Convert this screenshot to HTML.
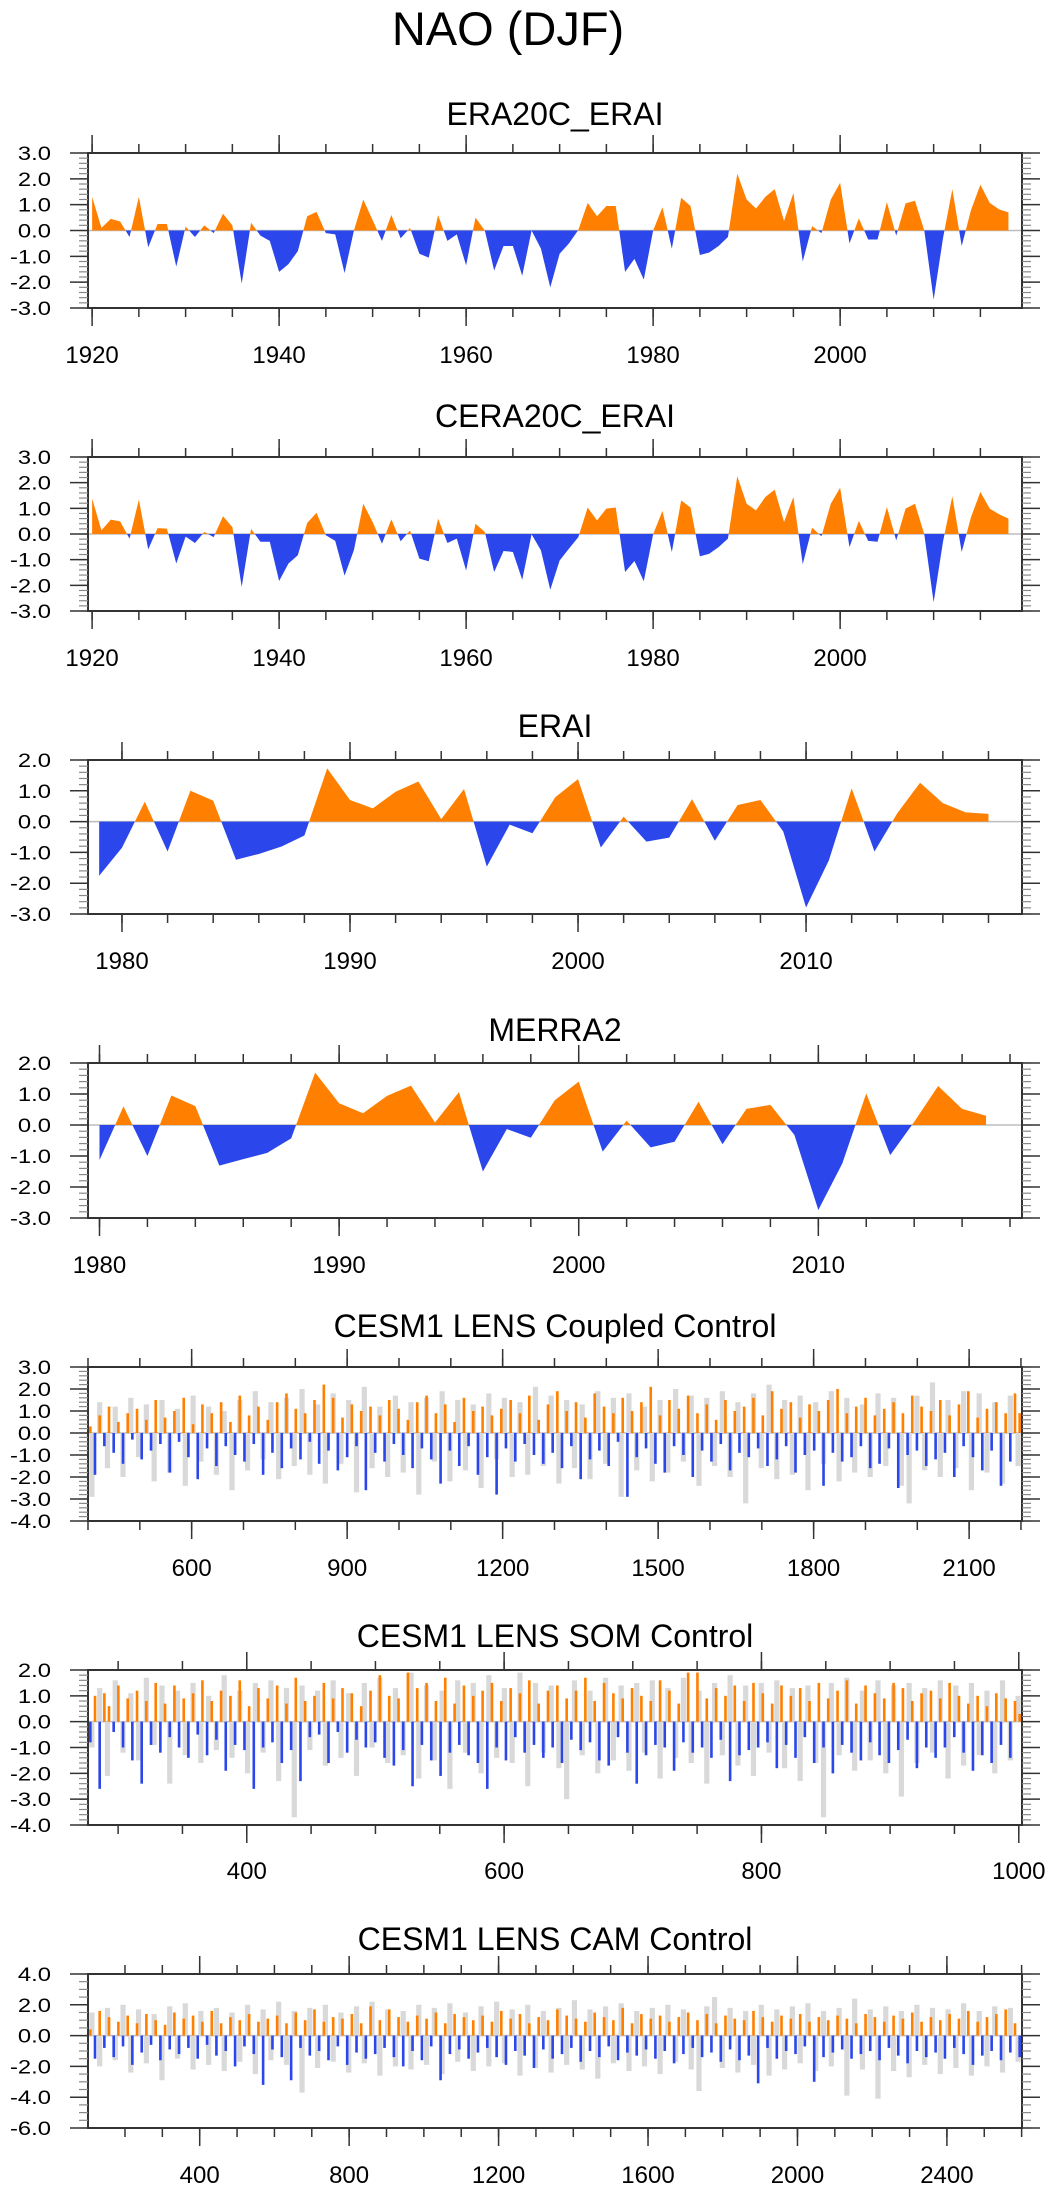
<!DOCTYPE html>
<html><head><meta charset="utf-8"><title>NAO (DJF)</title>
<style>
html,body{margin:0;padding:0;background:#fff;}
svg{display:block;font-family:"Liberation Sans",Arial,sans-serif;}
</style></head>
<body>
<svg id="fig" xmlns="http://www.w3.org/2000/svg" width="1049" height="2192" viewBox="0 0 1049 2192">
<text x="508" y="45" font-size="47" text-anchor="middle" fill="#000">NAO (DJF)</text>
</svg>
<script>
// ===== data =====
const era20cStart = 1920;
const era20cValues = [1.3,0.1,0.45,0.35,-0.25,1.3,-0.65,0.25,0.25,-1.4,0.15,-0.25,0.2,-0.1,0.65,0.2,-2.05,0.3,-0.2,-0.4,
-1.6,-1.3,-0.8,0.55,0.72,-0.1,-0.15,-1.65,0.0,1.2,0.4,-0.4,0.6,-0.3,0.1,-0.9,-1.05,0.6,-0.4,-0.15,
-1.35,0.5,0.0,-1.55,-0.6,-0.6,-1.75,0.0,-0.7,-2.2,-0.9,-0.5,0.02,1.07,0.55,0.95,0.95,-1.6,-1.1,-1.9,
0.0,0.9,-0.7,1.27,0.95,-0.95,-0.85,-0.6,-0.25,2.2,1.2,0.85,1.3,1.6,0.37,1.45,-1.2,0.17,-0.1,1.2,
1.85,-0.5,0.47,-0.35,-0.35,1.1,-0.2,1.05,1.15,0.0,-2.68,-0.3,1.6,-0.6,0.8,1.77,1.07,0.82,0.7];
const cera20cStart = 1920;
const cera20cValues = [1.38,0.14,0.56,0.49,-0.18,1.34,-0.6,0.23,0.21,-1.15,-0.1,-0.35,0.08,-0.12,0.69,0.27,-2.06,0.2,-0.3,-0.3,
-1.83,-1.15,-0.83,0.43,0.83,-0.05,-0.27,-1.62,-0.63,1.18,0.47,-0.38,0.57,-0.28,0.14,-0.96,-1.06,0.6,-0.35,-0.18,
-1.42,0.4,0.08,-1.48,-0.66,-0.7,-1.78,-0.01,-0.64,-2.17,-1.03,-0.57,-0.12,1.03,0.53,0.99,1.03,-1.48,-1.05,-1.84,
-0.01,0.9,-0.7,1.31,1.03,-0.87,-0.77,-0.51,-0.18,2.25,1.18,0.92,1.44,1.73,0.47,1.44,-1.18,0.25,-0.09,1.18,
1.8,-0.51,0.51,-0.27,-0.3,1.05,-0.25,0.99,1.18,-0.01,-2.66,-0.3,1.47,-0.7,0.66,1.64,0.99,0.77,0.6];
const eraiStart = 1979;
const eraiValues = [-1.76,-0.85,0.65,-0.97,1.0,0.68,-1.24,-1.05,-0.81,-0.45,1.73,0.7,0.43,0.97,1.3,0.08,1.06,-1.46,-0.1,-0.38,
0.79,1.38,-0.84,0.16,-0.65,-0.52,0.73,-0.62,0.54,0.7,-0.32,-2.79,-1.26,1.08,-0.97,0.27,1.26,0.6,0.3,0.25];
const merra2Start = 1980;
const merra2Values = [-1.13,0.6,-1.0,0.95,0.61,-1.31,-1.1,-0.9,-0.43,1.69,0.7,0.38,0.94,1.27,0.08,1.06,-1.5,-0.13,-0.41,0.8,
1.4,-0.86,0.14,-0.72,-0.54,0.75,-0.62,0.52,0.65,-0.32,-2.74,-1.24,1.02,-0.97,0.1,1.26,0.52,0.3];

const coupledValues = [0.3,-1.9,0.8,-0.6,1.2,-0.9,0.5,-1.4,0.9,-0.3,1.1,-1.2,0.6,-0.8,1.5,-0.5,0.7,-1.8,1.0,-0.4,
1.6,-1.1,0.4,-2.1,1.3,-0.7,0.9,-1.5,1.4,-0.6,0.5,-1.0,1.7,-1.3,0.8,-0.5,1.2,-1.9,0.6,-0.9,
1.4,-1.6,1.8,-0.7,1.1,-1.2,0.9,-0.4,1.5,-1.4,2.2,-0.8,1.6,-1.7,0.7,-1.1,1.3,-0.6,1.0,-2.6,
1.2,-0.9,0.8,-1.3,1.5,-0.5,1.1,-1.0,0.6,-1.6,1.4,-0.7,1.7,-1.2,0.9,-2.3,1.3,-0.8,0.5,-1.5,
1.6,-0.6,1.0,-1.9,1.2,-1.1,0.8,-2.8,1.1,-0.7,1.5,-1.3,0.9,-0.5,1.7,-1.0,0.6,-1.4,1.3,-0.9,
1.9,-1.6,1.0,-0.6,1.4,-2.1,0.7,-1.2,1.8,-0.8,1.2,-1.5,0.9,-0.4,1.6,-2.9,1.0,-1.1,1.4,-0.7,
2.1,-1.4,0.8,-1.8,1.5,-0.6,1.1,-1.0,1.7,-2.0,0.9,-0.8,1.3,-1.3,0.6,-0.5,1.5,-1.7,1.0,-0.9,
1.2,-1.1,1.6,-0.7,0.8,-1.5,1.9,-1.2,1.1,-0.6,1.4,-1.8,0.7,-1.0,1.3,-0.8,1.0,-2.4,1.5,-0.9,
2.0,-1.3,0.9,-1.1,1.2,-0.6,1.6,-1.6,0.8,-1.4,1.1,-0.7,1.4,-2.5,0.9,-1.0,1.7,-0.8,1.2,-1.5,
1.0,-1.2,1.5,-0.9,0.8,-2.0,1.3,-0.6,1.9,-1.1,0.7,-1.7,1.1,-0.8,1.4,-2.4,0.9,-1.3,1.8,0.9];
const coupledGray = [-2.9,1.4,-1.6,1.2,-2.0,1.6,-1.1,1.3,-2.2,1.5,-1.8,1.1,-2.4,1.7,-1.3,1.2,-1.9,1.0,-2.6,1.5,
-1.7,1.9,-1.2,1.4,-2.1,1.6,-1.5,2.0,-1.9,1.3,-2.3,1.8,-1.4,1.5,-2.7,2.1,-1.6,1.2,-2.0,1.7,
-1.8,1.4,-2.8,1.6,-1.3,1.9,-2.2,1.5,-1.7,1.3,-2.5,1.8,-1.2,1.6,-2.0,1.4,-1.9,2.1,-1.5,1.7,
-2.3,1.5,-1.6,1.3,-2.1,1.9,-1.4,1.6,-2.9,1.8,-1.7,1.2,-2.2,1.5,-1.8,2.0,-1.3,1.7,-2.4,1.6,
-1.5,1.9,-2.0,1.4,-3.2,1.8,-1.6,2.2,-2.1,1.5,-1.9,1.7,-2.6,1.4,-1.4,1.9,-2.2,1.6,-1.8,1.3,
-2.0,1.8,-1.5,1.6,-2.4,-3.2,1.7,-1.7,2.3,-2.0,1.5,-1.6,1.9,-2.6,1.8,-1.8,1.4,-2.3,1.7,-1.5];

const somValues = [-0.8,1.0,-2.6,1.1,0.6,-0.4,1.4,-1.0,0.9,-1.5,1.2,-2.4,0.8,-0.9,1.5,-1.2,0.7,-0.6,1.4,-1.0,
0.9,-1.4,1.1,-0.5,1.6,-1.3,0.8,-0.7,1.2,-1.9,1.0,-0.9,1.6,-1.1,0.6,-2.6,1.3,-1.0,0.9,-0.8,
1.4,-1.6,0.7,-1.1,1.7,-2.3,0.8,-0.6,1.0,-0.5,1.5,-1.6,0.9,-0.4,1.3,-1.2,1.1,-0.7,0.6,-1.0,
1.2,-0.8,1.8,-1.4,1.0,-1.7,0.9,-1.1,1.9,-2.5,1.3,-0.9,1.5,-1.5,0.8,-2.1,1.7,-1.2,0.7,-0.9,
1.4,-1.3,1.0,-1.6,1.2,-2.6,1.5,-1.0,0.8,-1.5,1.3,-0.6,1.1,-1.2,1.6,-0.9,0.7,-1.4,1.2,-1.0,
1.4,-1.6,0.9,-0.7,1.2,-1.1,1.7,-0.8,0.8,-1.5,1.5,-1.7,1.1,-0.6,0.9,-1.2,1.3,-2.4,1.0,-1.3,
0.8,-0.9,1.6,-1.0,1.2,-1.9,0.7,-0.8,1.9,-1.2,1.9,-1.0,0.9,-1.4,1.3,-0.7,1.0,-2.3,1.4,-1.3,
0.8,-1.1,1.5,-1.0,1.1,-0.8,0.7,-1.8,1.4,-0.9,1.0,-1.4,1.3,-0.6,0.8,-1.6,1.5,-1.0,0.9,-2.0,
1.2,-0.9,1.6,-1.2,0.7,-1.5,1.4,-0.8,1.1,-1.3,0.9,-1.6,1.5,-1.1,1.3,-0.7,0.8,-1.8,1.1,-1.0,
1.2,-1.4,0.9,-1.0,1.5,-0.6,1.0,-1.2,0.7,-1.9,1.0,-1.3,0.6,-1.6,1.1,-0.9,0.9,-1.4,0.8,0.3];
const somGray = [-1.0,1.3,-2.1,1.6,-1.2,1.1,-1.5,1.7,-0.9,1.4,-2.4,1.2,-1.3,1.5,-1.6,1.0,-1.1,1.8,-1.4,1.2,
-2.0,1.5,-1.2,1.6,-2.3,1.3,-3.7,1.4,-1.1,1.2,-1.7,1.6,-1.4,1.1,-2.1,1.5,-1.0,1.7,-1.6,1.3,
-1.3,1.9,-2.2,1.4,-1.5,1.2,-2.6,1.6,-1.2,1.5,-2.0,1.8,-1.4,1.3,-1.6,1.9,-2.5,1.5,-1.2,1.4,
-1.8,-3.0,1.6,-1.3,1.2,-2.0,1.7,-1.5,1.4,-1.9,1.5,-1.2,1.6,-2.2,1.3,-1.4,1.7,-1.6,1.2,-2.4,
1.5,-1.3,1.8,-1.7,1.4,-2.1,1.5,-1.2,1.6,-1.8,1.3,-2.3,1.4,-1.6,-3.7,1.5,-1.3,1.7,-1.9,1.2,
-1.5,1.6,-2.0,1.4,-2.9,1.5,-1.6,1.3,-1.2,1.6,-2.2,1.4,-1.7,1.5,-1.3,1.2,-2.0,1.6,-1.5,1.0];

const camValues = [0.4,-1.5,1.6,-0.8,1.2,-1.4,0.9,-0.7,1.3,-1.9,0.8,-1.1,1.4,-0.6,1.0,-1.6,0.7,-0.9,1.5,-1.2,
1.1,-0.8,1.3,-1.5,0.9,-0.6,1.6,-1.3,0.8,-1.0,1.2,-2.0,1.0,-0.7,1.4,-1.2,0.9,-3.2,1.1,-0.9,
1.3,-1.4,0.8,-2.9,1.5,-0.8,1.0,-1.3,1.7,-1.0,0.9,-1.6,1.2,-0.7,1.1,-1.9,1.4,-1.1,0.8,-1.5,
1.9,-1.2,1.0,-0.8,1.7,-1.4,1.2,-2.0,0.9,-1.0,1.3,-1.6,1.1,-0.7,1.5,-2.9,0.8,-1.2,1.4,-0.9,
1.2,-1.5,1.0,-1.1,1.3,-0.8,0.9,-1.4,1.6,-1.9,1.1,-1.0,1.4,-1.3,0.8,-2.1,1.2,-0.9,1.0,-1.5,
1.7,-1.2,1.3,-0.8,1.1,-1.7,0.9,-1.0,1.5,-1.4,1.2,-0.7,1.0,-1.6,1.8,-1.1,0.8,-1.3,1.4,-0.9,
1.1,-1.5,1.3,-1.0,0.9,-1.8,1.2,-1.2,1.5,-0.8,1.0,-1.4,1.4,-1.1,0.8,-1.7,1.3,-0.9,1.1,-1.6,
1.0,-1.3,1.6,-3.1,1.2,-0.8,0.9,-1.5,1.3,-1.0,1.1,-1.2,1.4,-0.7,0.9,-3.0,1.2,-1.4,1.0,-1.1,
1.3,-0.9,1.1,-1.5,0.8,-1.2,1.4,-1.0,1.2,-1.6,0.9,-0.8,1.3,-1.3,1.1,-1.8,1.5,-1.0,0.9,-1.4,
1.2,-1.1,1.0,-1.5,1.4,-0.8,1.1,-1.2,1.6,-1.9,0.9,-1.3,1.2,-1.0,1.4,-1.6,1.7,-1.1,0.8,-1.4];
const camGray = [1.5,-2.0,1.8,-1.6,2.0,-2.4,1.7,-1.8,1.4,-2.9,1.9,-1.5,2.1,-2.2,1.6,-1.9,1.8,-2.3,1.5,-1.7,
2.0,-2.5,1.7,-1.6,2.2,-1.9,1.6,-3.7,1.8,-2.1,2.0,-1.7,1.5,-2.4,1.9,-1.8,2.2,-2.6,1.7,-2.0,
1.6,-2.2,2.0,-1.9,1.8,-2.5,2.1,-1.7,1.5,-2.3,1.9,-2.0,2.2,-1.8,1.7,-2.6,2.0,-2.1,1.6,-2.4,
1.8,-1.9,2.3,-2.2,1.7,-2.8,1.9,-1.8,2.1,-2.3,1.6,-2.0,1.8,-2.5,2.0,-1.7,1.7,-2.2,-3.6,1.9,
2.5,-2.1,1.8,-2.4,1.6,-1.9,2.0,-2.6,1.7,-2.2,1.9,-1.8,2.1,-2.3,1.6,-2.0,1.8,-3.9,2.4,-2.2,
1.7,-4.1,1.9,-2.3,1.6,-2.7,2.0,-1.9,1.8,-2.5,1.7,-2.1,2.1,-2.6,1.6,-2.0,1.9,-2.4,1.8,-1.7];

// tick labels
const yLabels1 = ["3.0","2.0","1.0","0.0","-1.0","-2.0","-3.0"];
const yLabels3 = ["2.0","1.0","0.0","-1.0","-2.0","-3.0"];
const yLabels5 = ["3.0","2.0","1.0","0.0","-1.0","-2.0","-3.0","-4.0"];
const yLabels6 = ["2.0","1.0","0.0","-1.0","-2.0","-3.0","-4.0"];
const yLabels7 = ["4.0","2.0","0.0","-2.0","-4.0","-6.0"];
const xLabels1 = ["1920","1940","1960","1980","2000"];
const xLabels3 = ["1980","1990","2000","2010"];
const xLabels5 = ["600","900","1200","1500","1800","2100"];
const xLabels6 = ["400","600","800","1000"];
const xLabels7 = ["400","800","1200","1600","2000","2400"];

// ===== drawing =====
const NS = "http://www.w3.org/2000/svg";
const svg = document.getElementById("fig");
const X0 = 88, X1 = 1022;
const ORANGE = "#ff8000", BLUE = "#2b46ea", GRAY = "#d9d9d9";

function mk(tag, attrs, parent) {
  const el = document.createElementNS(NS, tag);
  for (const k in attrs) el.setAttribute(k, attrs[k]);
  parent.appendChild(el);
  return el;
}

function panel(p) {
  const g = mk("g", {}, svg);
  
  
  const sx = v => X0 + (v - p.xmin) / (p.xmax - p.xmin) * (X1 - X0);
  const sy = v => p.top + (p.ymax - v) / (p.ymax - p.ymin) * (p.bottom - p.top);

  const t = mk("text", {x: 555, y: p.titleY, "font-size": 32, "text-anchor": "middle", fill: "#000"}, g);
  t.textContent = p.title;
  
  

  const z = mk("line", {x1: X0, x2: X1, y1: sy(0), y2: sy(0), stroke: "#bdbdbd", "stroke-width": 1.5}, g);
  
  

  if (p.kind === "area") {
    const xs = p.values.map((v, i) => p.start + i);
    const vs = p.values;
    const pts = [];
    for (let i = 0; i < vs.length; i++) {
      pts.push([xs[i], vs[i]]);
      if (i < vs.length - 1 && vs[i] * vs[i + 1] < 0) {
        const f = vs[i] / (vs[i] - vs[i + 1]);
        pts.push([xs[i] + f * (xs[i + 1] - xs[i]), 0]);
      }
    }
    const build = fn => {
      let d = "M" + sx(pts[0][0]).toFixed(2) + "," + sy(0).toFixed(2);
      for (const q of pts) d += "L" + sx(q[0]).toFixed(2) + "," + sy(fn(q[1])).toFixed(2);
      d += "L" + sx(pts[pts.length - 1][0]).toFixed(2) + "," + sy(0).toFixed(2) + "Z";
      return d;
    };
    const pos = mk("path", {d: build(v => Math.max(v, 0)), fill: ORANGE}, g);
    
    
    const neg = mk("path", {d: build(v => Math.min(v, 0)), fill: BLUE}, g);
    
    
  } else {
    const gg = mk("g", {}, g);
    
    
    const ng = p.gray.length, span = p.xmax - p.xmin;
    p.gray.forEach((v, i) => {
      const xc = sx(p.xmin + (i + 0.5) * span / ng);
      const y = sy(Math.max(v, 0)), h = Math.abs(sy(v) - sy(0));
      const r = mk("rect", {x: (xc - 2.6).toFixed(2), y: y.toFixed(2), width: 5.2, height: h.toFixed(2), fill: GRAY}, gg);
      
      
    });
    const gb = mk("g", {}, g);
    
    
    const n = p.values.length;
    p.values.forEach((v, i) => {
      const xc = sx(p.xmin + (i + 0.5) * span / n);
      const y = sy(Math.max(v, 0)), h = Math.abs(sy(v) - sy(0));
      const r = mk("rect", {x: (xc - 1.3).toFixed(2), y: y.toFixed(2), width: 2.6, height: h.toFixed(2), fill: v >= 0 ? ORANGE : BLUE}, gb);
      
      
    });
  }

  const ax = mk("g", {stroke: "#333", "stroke-width": 1.5, fill: "none"}, g);
  
  
  const box = mk("rect", {x: X0, y: p.top, width: X1 - X0, height: p.bottom - p.top, "stroke-width": 2}, ax);
  
  
  const nMinY = Math.round((p.ymax - p.ymin) / p.yminor);
  for (let k = 0; k <= nMinY; k++) {
    const y = sy(p.ymin + k * p.yminor);
    mk("line", {x1: X0 - 9, x2: X0, y1: y, y2: y, stroke: "#888", "stroke-width": 1.2}, ax);
    mk("line", {x1: X1, x2: X1 + 9, y1: y, y2: y, stroke: "#888", "stroke-width": 1.2}, ax);
  }
  p.yLabels.forEach((lab, k) => {
    const y = sy(p.ymax - k * p.ymajor);
    mk("line", {x1: X0 - 18, x2: X0, y1: y, y2: y}, ax);
    mk("line", {x1: X1, x2: X1 + 18, y1: y, y2: y}, ax);
    const tx = mk("text", {transform: "translate(51," + (y + 7).toFixed(1) + ") scale(1.22,1)", "font-size": 19.5, "text-anchor": "end", fill: "#000", stroke: "none"}, g);
    tx.textContent = lab;
    
    
  });
  const first = Math.ceil(p.xmin / p.xminor) * p.xminor;
  for (let v = first; v <= p.xmax + 1e-6; v += p.xminor) {
    const x = sx(v);
    mk("line", {x1: x, x2: x, y1: p.top - 9, y2: p.top}, ax);
    mk("line", {x1: x, x2: x, y1: p.bottom, y2: p.bottom + 9}, ax);
  }
  p.xLabels.forEach(lab => {
    const x = sx(parseFloat(lab));
    mk("line", {x1: x, x2: x, y1: p.top - 18, y2: p.top}, ax);
    mk("line", {x1: x, x2: x, y1: p.bottom, y2: p.bottom + 18}, ax);
    const tx = mk("text", {x: x.toFixed(1), y: p.labelY, "font-size": 24, "text-anchor": "middle", fill: "#000", stroke: "none"}, g);
    tx.textContent = lab;
    
    
  });
}

panel({name: "era20c-erai", title: "ERA20C_ERAI", kind: "area", values: era20cValues, start: era20cStart,
  top: 153, bottom: 308, titleY: 125, labelY: 363, xmin: 1919.56, xmax: 2019.45, xminor: 5,
  ymin: -3, ymax: 3, ymajor: 1, yminor: 0.2, yLabels: yLabels1, xLabels: xLabels1});
panel({name: "cera20c-erai", title: "CERA20C_ERAI", kind: "area", values: cera20cValues, start: cera20cStart,
  top: 457, bottom: 611, titleY: 427, labelY: 666, xmin: 1919.56, xmax: 2019.45, xminor: 5,
  ymin: -3, ymax: 3, ymajor: 1, yminor: 0.2, yLabels: yLabels1, xLabels: xLabels1});
panel({name: "erai", title: "ERAI", kind: "area", values: eraiValues, start: eraiStart,
  top: 760, bottom: 914, titleY: 737, labelY: 969, xmin: 1978.51, xmax: 2019.47, xminor: 2,
  ymin: -3, ymax: 2, ymajor: 1, yminor: 0.2, yLabels: yLabels3, xLabels: xLabels3});
panel({name: "merra2", title: "MERRA2", kind: "area", values: merra2Values, start: merra2Start,
  top: 1063, bottom: 1218, titleY: 1041, labelY: 1273, xmin: 1979.52, xmax: 2018.5, xminor: 2,
  ymin: -3, ymax: 2, ymajor: 1, yminor: 0.2, yLabels: yLabels3, xLabels: xLabels3});
panel({name: "coupled-control", title: "CESM1 LENS Coupled Control", kind: "bars", values: coupledValues, gray: coupledGray,
  top: 1367, bottom: 1521, titleY: 1337, labelY: 1576, xmin: 400, xmax: 2202, xminor: 100,
  ymin: -4, ymax: 3, ymajor: 1, yminor: 0.2, yLabels: yLabels5, xLabels: xLabels5});
panel({name: "som-control", title: "CESM1 LENS SOM Control", kind: "bars", values: somValues, gray: somGray,
  top: 1670, bottom: 1825, titleY: 1647, labelY: 1879, xmin: 276.6, xmax: 1002.5, xminor: 50,
  ymin: -4, ymax: 2, ymajor: 1, yminor: 0.2, yLabels: yLabels6, xLabels: xLabels6});
panel({name: "cam-control", title: "CESM1 LENS CAM Control", kind: "bars", values: camValues, gray: camGray,
  top: 1974, bottom: 2128, titleY: 1950, labelY: 2183, xmin: 101, xmax: 2601, xminor: 100,
  ymin: -6, ymax: 4, ymajor: 2, yminor: 0.5, yLabels: yLabels7, xLabels: xLabels7});
</script>
</body></html>
